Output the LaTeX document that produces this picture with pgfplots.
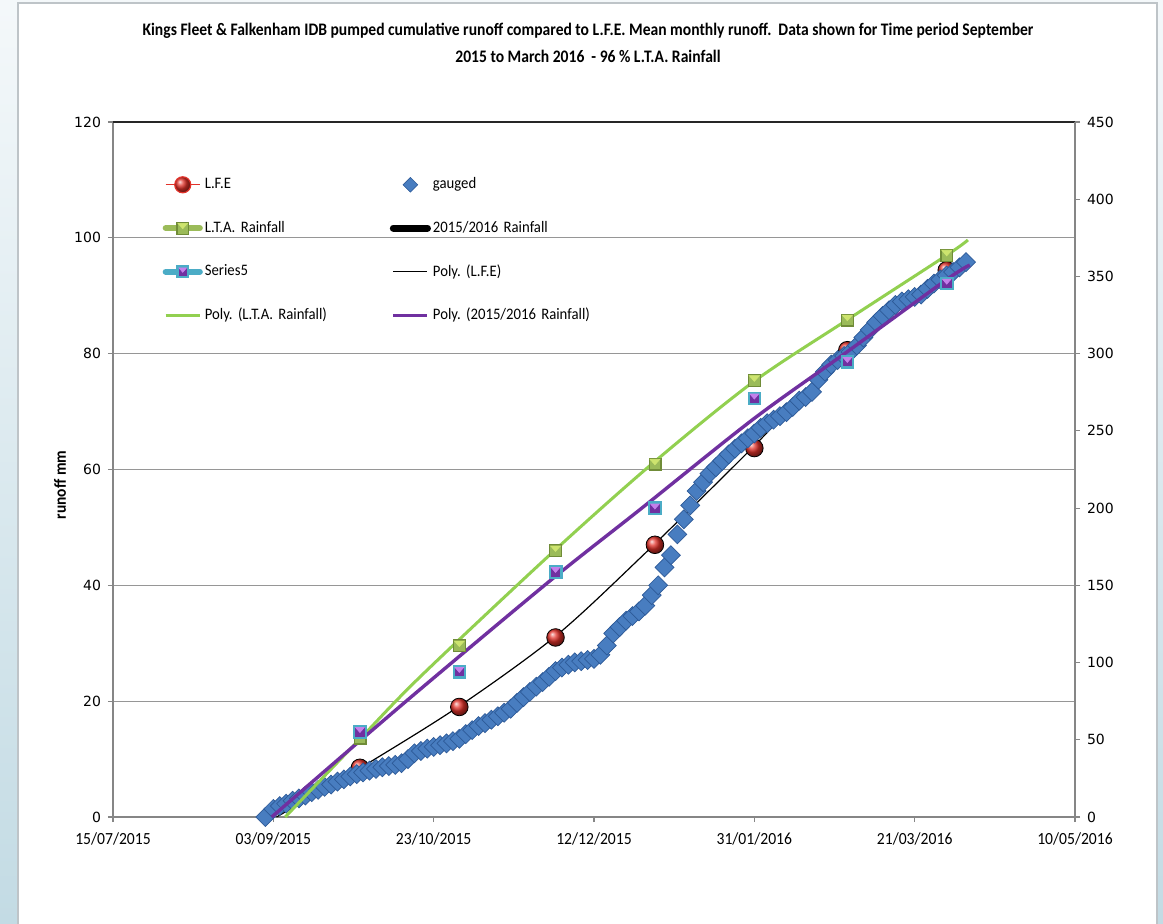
\documentclass[border=0pt]{standalone}
\usepackage{pgfplots}
\pgfplotsset{compat=1.18}
\usepackage{fontspec}
\setmainfont{Carlito}
\newfontfamily\titlefont[FakeStretch=0.886]{Carlito}
\newfontfamily\narrowfont[FakeStretch=0.92]{Carlito}
\newfontfamily\tickfont{DejaVu Sans}
\frenchspacing

\definecolor{gridgray}{RGB}{150,150,150}
\definecolor{axisgray}{RGB}{134,134,134}
\definecolor{bgtop}{RGB}{244,248,250}
\definecolor{bgbot}{RGB}{195,219,228}
\definecolor{framegray}{RGB}{190,196,200}
\definecolor{lfered}{RGB}{226,50,42}
\definecolor{gaugefill}{RGB}{72,125,192}
\definecolor{gaugeedge}{RGB}{45,90,152}
\definecolor{ltagreen}{RGB}{155,187,89}
\definecolor{ltalight}{RGB}{205,228,110}
\definecolor{ltadark}{RGB}{112,140,56}
\definecolor{sfivecyan}{RGB}{75,172,198}
\definecolor{sfivepurple}{RGB}{112,48,160}
\definecolor{sfivelight}{RGB}{196,128,235}
\definecolor{polygreen}{RGB}{146,208,80}
\definecolor{polypurple}{RGB}{112,48,160}

% bevelled square markers of the rainfall series
\pgfdeclareplotmark{ltasquare}{%
  \fill[ltadark] (-\pgfplotmarksize,-\pgfplotmarksize) rectangle (\pgfplotmarksize,\pgfplotmarksize);
  \fill[ltagreen] (-0.8\pgfplotmarksize,-0.8\pgfplotmarksize) rectangle (0.8\pgfplotmarksize,0.8\pgfplotmarksize);
  \fill[ltalight] (-0.8\pgfplotmarksize,0.8\pgfplotmarksize) -- (0.8\pgfplotmarksize,0.8\pgfplotmarksize) -- (0pt,-0.1\pgfplotmarksize) -- cycle;
}
\pgfdeclareplotmark{sfivesquare}{%
  \fill[sfivecyan] (-\pgfplotmarksize,-\pgfplotmarksize) rectangle (\pgfplotmarksize,\pgfplotmarksize);
  \fill[sfivepurple] (-0.65\pgfplotmarksize,-0.65\pgfplotmarksize) rectangle (0.65\pgfplotmarksize,0.65\pgfplotmarksize);
  \fill[sfivelight] (-0.65\pgfplotmarksize,0.65\pgfplotmarksize) -- (0.65\pgfplotmarksize,0.65\pgfplotmarksize) -- (0pt,-0.1\pgfplotmarksize) -- cycle;
}

\pgfplotsset{
  chartbox/.style={
    at={(56.5pt,53pt)}, anchor=south west,
    scale only axis, width=481pt, height=347.5pt,
    xmin=0, xmax=300, clip=false,
    tick align=outside, major tick length=2.5pt,
    axis line style={axisgray, line width=0.9pt},
    tick style={axisgray, line width=0.6pt},
    /pgf/number format/assume math mode=true,
    yticklabel style={font=\tickfont\fontsize{7}{8}\selectfont, black},
  },
}

% days counted from 15/07/2015
\pgfplotstableread{
day value
47.5 0.0
50 1.4
52 1.9
54 2.3
56 2.8
58 3.2
60 3.7
62 4.3
64 4.7
66 5.2
68 5.6
70 6.1
72 6.5
74 7.0
76 7.4
78 7.7
80 8.0
82 8.3
84 8.6
86 8.8
88 9.0
90 9.3
92 10.0
94 11.0
96 11.4
98 11.8
100 12.1
102 12.4
104 12.7
106 13.1
108 13.5
110 14.3
112 15.0
114 15.7
116 16.2
118 16.8
120 17.4
122 18.0
124 18.7
126 19.7
128 20.7
130 21.6
132 22.5
134 23.3
136 24.2
138 25.2
140 25.8
142 26.3
144 26.7
146 26.9
148 27.1
150 27.3
152 28.0
154 29.6
156 31.7
158 32.8
160 33.9
162 34.7
164 35.5
166 36.5
168 38.3
170 40.0
172 43.1
174 45.2
176 48.8
178 51.4
180 53.8
182 56.3
184 57.8
186 59.3
188 60.4
190 61.5
192 62.6
194 63.6
196 64.5
198 65.4
200 66.2
202 67.2
204 68.0
206 68.6
208 69.2
210 69.9
212 70.8
214 71.9
216 72.5
218 73.4
220 75.5
222 76.9
224 78.1
226 78.9
228 79.6
230 80.3
232 81.4
234 82.8
236 84.1
238 85.4
240 86.5
242 87.5
244 88.4
246 89.0
248 89.4
250 89.8
252 90.2
254 91.2
256 92.1
258 92.8
260 93.5
262 94.1
264 94.9
266 95.8
}\gauged

\begin{document}
\begin{tikzpicture}
\useasboundingbox (0,0) rectangle (581.5pt,461.5pt);
\shade[top color=bgtop, bottom color=bgbot] (0,0) rectangle (581.5pt,461.5pt);
\fill[white] (9pt,-2pt) rectangle (578.5pt,460pt);
\draw[framegray, line width=0.6pt] (9pt,-2pt) -- (9pt,460pt) -- (578.5pt,460pt) -- (578.5pt,-2pt);

\node[font=\titlefont\bfseries\fontsize{8.8}{10}\selectfont] at (294pt,446pt)
  {Kings Fleet \& Falkenham IDB pumped cumulative runoff compared to L.F.E. Mean monthly runoff.\ \ Data shown for Time period September};
\node[font=\titlefont\bfseries\fontsize{8.8}{10}\selectfont] at (294pt,433.5pt)
  {2015 to March 2016\ \ - 96 \% L.T.A. Rainfall};
\node[rotate=90, font=\narrowfont\bfseries\fontsize{8.4}{9}\selectfont] at (30pt,219pt) {runoff mm};

% runoff (left axis)
\begin{axis}[chartbox,
  ymin=0, ymax=120, ytick={0,20,...,120},
  axis x line*=bottom, axis y line*=left,
  xtick={0,50,...,300},
  xticklabels={15/07/2015,03/09/2015,23/10/2015,12/12/2015,31/01/2016,21/03/2016,10/05/2016},
  xticklabel style={font=\narrowfont\fontsize{8.5}{9}\selectfont, black, yshift=-2pt},
  ymajorgrids, grid style={gridgray, line width=0.6pt},
  legend columns=2,
  legend cell align=left,
  legend style={draw=none, fill=none, at={(0.045,0.929)}, anchor=north west,
    font=\narrowfont\fontsize{8}{9.5}\selectfont, row sep=12.6pt,
    nodes={text width=91.5pt, align=left, inner sep=1pt}},
]
\addlegendimage{lfered, line width=0.6pt, mark=ball, mark size=4pt, mark options={ball color=lfered}}
\addlegendentry{L.F.E}
\addlegendimage{only marks, mark=square*, mark size=2.6pt, mark options={rotate=45, fill=gaugefill, draw=gaugeedge, line width=0.3pt}}
\addlegendentry{gauged}
\addlegendimage{ltagreen, line width=3pt, line cap=round, mark=ltasquare, mark size=3pt, mark options={solid, line width=0.3pt}}
\addlegendentry{L.T.A. Rainfall}
\addlegendimage{black, line width=3.5pt, line cap=round}
\addlegendentry{2015/2016 Rainfall}
\addlegendimage{sfivecyan, line width=3pt, line cap=round, mark=sfivesquare, mark size=3pt, mark options={solid, line width=0.3pt}}
\addlegendentry{Series5}
\addlegendimage{black, line width=0.6pt}
\addlegendentry{Poly. (L.F.E)}
\addlegendimage{polygreen, line width=1.5pt}
\addlegendentry{Poly. (L.T.A. Rainfall)}
\addlegendimage{polypurple, line width=1.7pt}
\addlegendentry{Poly. (2015/2016 Rainfall)}

\draw[black!85, line width=0.8pt] (rel axis cs:0,1) -- (rel axis cs:1,1);

% L.F.E mean monthly cumulative runoff
\addplot[forget plot, only marks, mark=ball, mark size=4.4pt, mark options={ball color=lfered}]
  coordinates {(77,8.5) (108,19.0) (138,31.0) (169,47.0) (200,63.7) (229,80.6) (260,94.4)};
% gauged pumped runoff
\addplot[forget plot, only marks, mark=square*, mark size=3.35pt,
  mark options={rotate=45, fill=gaugefill, draw=gaugeedge, line width=0.35pt}]
  table[x=day, y=value] {\gauged};
% trend of L.F.E
\addplot[forget plot, black, line width=0.6pt, smooth]
  coordinates {(51.0,0) (77.1,8.46) (107.7,19.04) (137.8,31.13) (164.3,44.67) (199.7,63.93) (228.8,80.63) (260.0,94.1) (267.2,96.3)};
\end{axis}

% rainfall (right axis)
\begin{axis}[chartbox,
  ymin=0, ymax=450, ytick={0,50,...,450},
  axis x line=none, axis y line*=right,
]
\addplot[forget plot, only marks, mark=ltasquare, mark size=3pt]
  coordinates {(77,51.1) (108,110.8) (138,172.4) (169,228.5) (200,282.5) (229,321.8) (260,363.8)};
\addplot[forget plot, only marks, mark=sfivesquare, mark size=3.2pt]
  coordinates {(77,55.2) (108,94.1) (138,158.8) (169,199.9) (200,271.1) (229,294.8) (260,345.5)};
\addplot[forget plot, polygreen, line width=1.5pt, smooth]
  coordinates {(53.7,0) (76.4,49.2) (95.8,90.8) (137.2,171.6) (168.4,229.2) (199.6,281.6) (228.9,321.8) (260.1,363.9) (266.6,373.6)};
\addplot[forget plot, polypurple, line width=1.7pt, smooth]
  coordinates {(49.5,0) (76.4,48.3) (99.4,89) (137.2,154.5) (164.3,199) (199.6,257.5) (228.8,301) (260.0,348) (267.2,357.4)};
\end{axis}
\end{tikzpicture}
\end{document}
